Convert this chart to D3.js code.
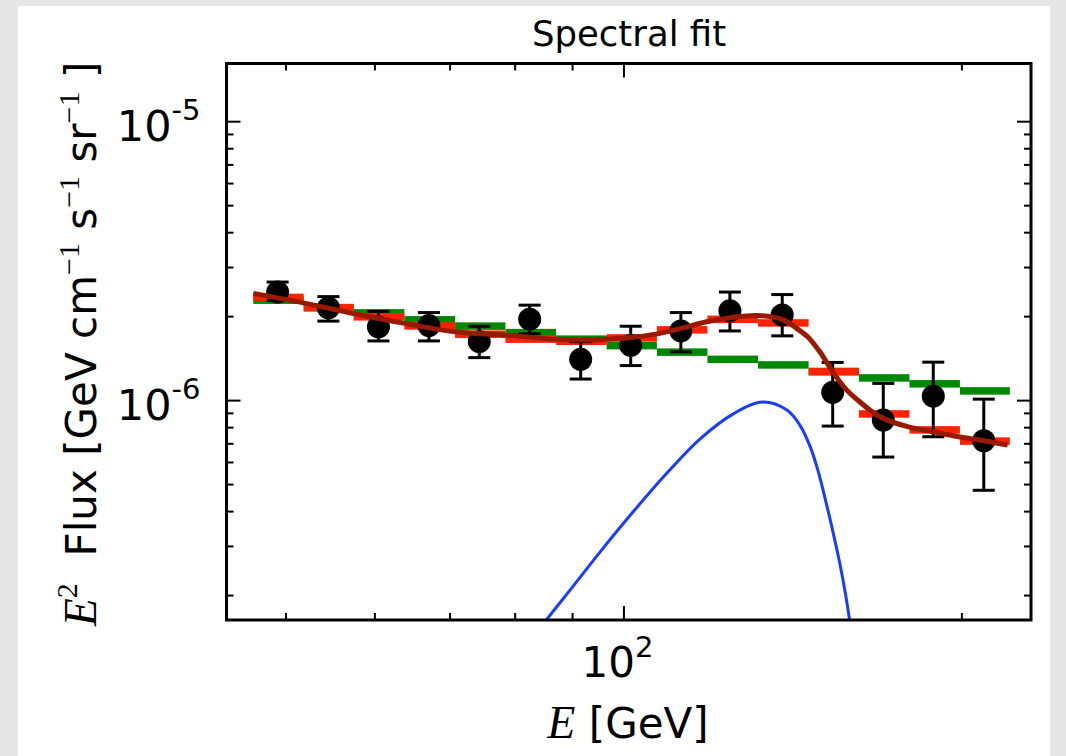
<!DOCTYPE html>
<html>
<head>
<meta charset="utf-8">
<script src="https://cdn.jsdelivr.net/npm/d3@7"></script>
<style>
  html, body { margin: 0; padding: 0; background: #e6e6e6; }
  svg { display: block; }
</style>
</head>
<body>
<svg id="chart" width="1066" height="756"></svg>
<script>
// ---------------- data ----------------
const binEdges = [46.8, 51.9, 57.5, 63.8, 70.8, 78.5, 87.1, 96.6, 107.1, 118.8, 131.8, 146.2, 162.1, 179.8, 199.4, 220.9];
const energies = [49.2, 54.6, 60.5, 67.1, 74.4, 82.5, 91.6, 101.5, 112.5, 124.4, 138.5, 153.6, 170.4, 188.8, 209.4];
const fluxData = [2.44e-6, 2.14e-6, 1.83e-6, 1.85e-6, 1.62e-6, 1.95e-6, 1.40e-6, 1.57e-6, 1.77e-6, 2.09e-6, 2.02e-6, 1.066e-6, 0.848e-6, 1.033e-6, 0.715e-6];
const fluxHi   = [2.65e-6, 2.35e-6, 2.08e-6, 2.06e-6, 1.84e-6, 2.19e-6, 1.62e-6, 1.84e-6, 2.06e-6, 2.44e-6, 2.39e-6, 1.365e-6, 1.148e-6, 1.368e-6, 1.008e-6];
const fluxLo   = [2.28e-6, 1.92e-6, 1.63e-6, 1.63e-6, 1.42e-6, 1.73e-6, 1.19e-6, 1.33e-6, 1.49e-6, 1.77e-6, 1.70e-6, 0.807e-6, 0.625e-6, 0.739e-6, 0.475e-6];
// background-only model (green) and background+line model (red), per bin
const bkgModel = [2.282e-6, 2.145e-6, 2.055e-6, 1.940e-6, 1.842e-6, 1.746e-6, 1.654e-6, 1.568e-6, 1.486e-6, 1.400e-6, 1.337e-6, 1.267e-6, 1.201e-6, 1.144e-6, 1.079e-6];
const lineModel = [2.334e-6, 2.145e-6, 1.989e-6, 1.845e-6, 1.723e-6, 1.654e-6, 1.625e-6, 1.671e-6, 1.786e-6, 1.948e-6, 1.891e-6, 1.263e-6, 0.892e-6, 0.782e-6, 0.713e-6];
// smooth total fit (dark red)
const fitE    = [46.8, 51.85, 57.46, 63.89, 70.78, 78.44, 87.0, 91.47, 96.47, 101.55, 106.9, 112.5, 118.6, 124.4, 131.6, 138.5, 142.7, 145.9, 149.6, 153.6, 158.1, 161.7, 165.8, 170.4, 179.4, 188.8, 199.0, 209.4, 219.9];
const fitFlux = [2.413e-6, 2.232e-6, 2.045e-6, 1.884e-6, 1.757e-6, 1.710e-6, 1.651e-6, 1.641e-6, 1.654e-6, 1.678e-6, 1.724e-6, 1.807e-6, 1.909e-6, 1.972e-6, 2.012e-6, 1.946e-6, 1.807e-6, 1.687e-6, 1.490e-6, 1.263e-6, 1.086e-6, 1.000e-6, 0.921e-6, 0.860e-6, 0.802e-6, 0.770e-6, 0.739e-6, 0.715e-6, 0.690e-6];
// line component (blue)
const lineE    = [84.25, 89.62, 95.30, 101.97, 109.33, 116.98, 125.17, 133.12, 139.83, 143.6, 146.6, 149.0, 151.5, 153.7, 155.9, 157.8, 159.4];
const lineFlux = [1.524e-7, 2.084e-7, 2.852e-7, 3.968e-7, 5.475e-7, 7.248e-7, 8.910e-7, 9.836e-7, 9.208e-7, 8.136e-7, 6.842e-7, 5.612e-7, 4.309e-7, 3.364e-7, 2.584e-7, 1.983e-7, 1.524e-7];
// axes
const xDomain = [44.3, 230.7];
const yDomain = [1.628e-7, 1.61e-5];
const xMajorTicks = [100];
const xMinorTicks = [50, 60, 70, 80, 90, 200];
const yMajorTicks = [1e-6, 1e-5];
const yMinorTicks = [2e-7, 3e-7, 4e-7, 5e-7, 6e-7, 7e-7, 8e-7, 9e-7, 2e-6, 3e-6, 4e-6, 5e-6, 6e-6, 7e-6, 8e-6, 9e-6];
const yTickLabels = [{v: 1e-5, base: "10", exp: "-5"}, {v: 1e-6, base: "10", exp: "-6"}];
const xTickLabels = [{v: 100, base: "10", exp: "2"}];
const titleText = "Spectral fit";

// ---------------- layout ----------------
const L = 226.5, R = 1031, T = 63.5, B = 620;
const svg = d3.select("#chart");
svg.append("rect").attr("x", 0).attr("y", 0).attr("width", 1066).attr("height", 756).attr("fill", "#e6e6e6");
svg.append("rect").attr("x", 18).attr("y", 6).attr("width", 1032).attr("height", 750).attr("fill", "#ffffff");

const x = d3.scaleLog().domain(xDomain).range([L, R]);
const y = d3.scaleLog().domain(yDomain).range([B, T]);

svg.append("defs").append("clipPath").attr("id", "clip")
  .append("rect").attr("x", L).attr("y", T).attr("width", R - L).attr("height", B - T);

const plot = svg.append("g").attr("clip-path", "url(#clip)");

// binned models
const bins = d3.range(energies.length).map(i => ({x0: binEdges[i], x1: binEdges[i + 1], g: bkgModel[i], r: lineModel[i]}));
const BAR = 7.5;
plot.selectAll("rect.green").data(bins).join("rect").attr("class", "green")
  .attr("x", d => x(d.x0)).attr("width", d => x(d.x1) - x(d.x0))
  .attr("y", d => y(d.g) - BAR / 2).attr("height", BAR).attr("fill", "#008800");
plot.selectAll("rect.red").data(bins).join("rect").attr("class", "red")
  .attr("x", d => x(d.x0)).attr("width", d => x(d.x1) - x(d.x0))
  .attr("y", d => y(d.r) - BAR / 2).attr("height", BAR).attr("fill", "#ff2200");

// data points with error bars
const pts = energies.map((e, i) => ({e, f: fluxData[i], hi: fluxHi[i], lo: fluxLo[i]}));
const eb = plot.append("g").attr("stroke", "#000").attr("stroke-width", 3);
eb.selectAll("line.v").data(pts).join("line").attr("class", "v")
  .attr("x1", d => x(d.e)).attr("x2", d => x(d.e)).attr("y1", d => y(d.hi)).attr("y2", d => y(d.lo));
eb.selectAll("line.ct").data(pts).join("line").attr("class", "ct")
  .attr("x1", d => x(d.e) - 11).attr("x2", d => x(d.e) + 11).attr("y1", d => y(d.hi)).attr("y2", d => y(d.hi));
eb.selectAll("line.cb").data(pts).join("line").attr("class", "cb")
  .attr("x1", d => x(d.e) - 11).attr("x2", d => x(d.e) + 11).attr("y1", d => y(d.lo)).attr("y2", d => y(d.lo));
plot.selectAll("circle.pt").data(pts).join("circle").attr("class", "pt")
  .attr("cx", d => x(d.e)).attr("cy", d => y(d.f)).attr("r", 11.5).attr("fill", "#000");

// blue line component
const lineGen = d3.line().x(d => x(d[0])).y(d => y(d[1])).curve(d3.curveCatmullRom.alpha(0.5));
plot.append("path").datum(lineE.map((e, i) => [e, lineFlux[i]]))
  .attr("d", lineGen).attr("fill", "none").attr("stroke", "#1a3cff").attr("stroke-width", 3);
// total fit
plot.append("path").datum(fitE.map((e, i) => [e, fitFlux[i]]))
  .attr("d", lineGen).attr("fill", "none").attr("stroke", "#991a00").attr("stroke-width", 5);

// ---------------- axes (ticks inward on all sides) ----------------
function styleAxis(g) {
  g.select(".domain").remove();
  g.selectAll(".tick line").attr("stroke", "#000").attr("stroke-width", 2);
  g.selectAll(".tick text").remove();
}
svg.append("g").attr("transform", `translate(0,${B})`).call(d3.axisBottom(x).tickValues(xMajorTicks).tickSize(-14)).call(styleAxis);
svg.append("g").attr("transform", `translate(0,${B})`).call(d3.axisBottom(x).tickValues(xMinorTicks).tickSize(-7)).call(styleAxis);
svg.append("g").attr("transform", `translate(0,${T})`).call(d3.axisTop(x).tickValues(xMajorTicks).tickSize(-14)).call(styleAxis);
svg.append("g").attr("transform", `translate(0,${T})`).call(d3.axisTop(x).tickValues(xMinorTicks).tickSize(-7)).call(styleAxis);
svg.append("g").attr("transform", `translate(${L},0)`).call(d3.axisLeft(y).tickValues(yMajorTicks).tickSize(-14)).call(styleAxis);
svg.append("g").attr("transform", `translate(${L},0)`).call(d3.axisLeft(y).tickValues(yMinorTicks).tickSize(-7)).call(styleAxis);
svg.append("g").attr("transform", `translate(${R},0)`).call(d3.axisRight(y).tickValues(yMajorTicks).tickSize(-14)).call(styleAxis);
svg.append("g").attr("transform", `translate(${R},0)`).call(d3.axisRight(y).tickValues(yMinorTicks).tickSize(-7)).call(styleAxis);

svg.append("rect").attr("x", L).attr("y", T).attr("width", R - L).attr("height", B - T)
  .attr("fill", "none").attr("stroke", "#000").attr("stroke-width", 3);

// tick labels
const SANS = "'DejaVu Sans', sans-serif";
yTickLabels.forEach(t => {
  const tx = svg.append("text").attr("x", L - 26).attr("y", y(t.v) + 20)
    .attr("text-anchor", "end").attr("font-family", SANS).attr("fill", "#000");
  tx.append("tspan").attr("font-size", 43).text(t.base);
  tx.append("tspan").attr("font-size", 29).attr("dy", -21).text(t.exp);
});
xTickLabels.forEach(t => {
  const tx = svg.append("text").attr("x", x(t.v) - 6).attr("y", B + 57)
    .attr("text-anchor", "middle").attr("font-family", SANS).attr("fill", "#000");
  tx.append("tspan").attr("font-size", 42).text(t.base);
  tx.append("tspan").attr("font-size", 29).attr("dy", -20).text(t.exp);
});

// title
svg.append("text").attr("x", 629).attr("y", 46).attr("text-anchor", "middle")
  .attr("font-family", SANS).attr("font-size", 35.5).attr("fill", "#000").text(titleText);

// x label
const SERIF = "'Liberation Serif', 'DejaVu Serif', serif";
const xl = svg.append("text").attr("x", 628).attr("y", 738).attr("text-anchor", "middle").attr("fill", "#000");
xl.append("tspan").attr("font-family", SERIF).attr("font-style", "italic").attr("font-size", 46).text("E");
xl.append("tspan").attr("font-family", SANS).attr("font-size", 42).text(" [GeV]");

// y label
const yl = svg.append("text").attr("transform", `translate(96,344) rotate(-90)`)
  .attr("text-anchor", "middle").attr("fill", "#000");
yl.append("tspan").attr("font-family", SERIF).attr("font-style", "italic").attr("font-size", 46).text("E");
yl.append("tspan").attr("font-family", SERIF).attr("font-size", 30).attr("dy", -19).text("2");
yl.append("tspan").attr("font-family", SANS).attr("font-size", 42).attr("dy", 19).text("\u00a0\u00a0Flux [GeV cm");
yl.append("tspan").attr("font-family", SERIF).attr("font-size", 30).attr("dy", -17).text("\u22121");
yl.append("tspan").attr("font-family", SANS).attr("font-size", 42).attr("dy", 17).text("\u00a0s");
yl.append("tspan").attr("font-family", SERIF).attr("font-size", 30).attr("dy", -17).text("\u22121");
yl.append("tspan").attr("font-family", SANS).attr("font-size", 42).attr("dy", 17).text("\u00a0sr");
yl.append("tspan").attr("font-family", SERIF).attr("font-size", 30).attr("dy", -17).text("\u22121");
yl.append("tspan").attr("font-family", SANS).attr("font-size", 42).attr("dy", 17).text("\u00a0]");
</script>
</body>
</html>
